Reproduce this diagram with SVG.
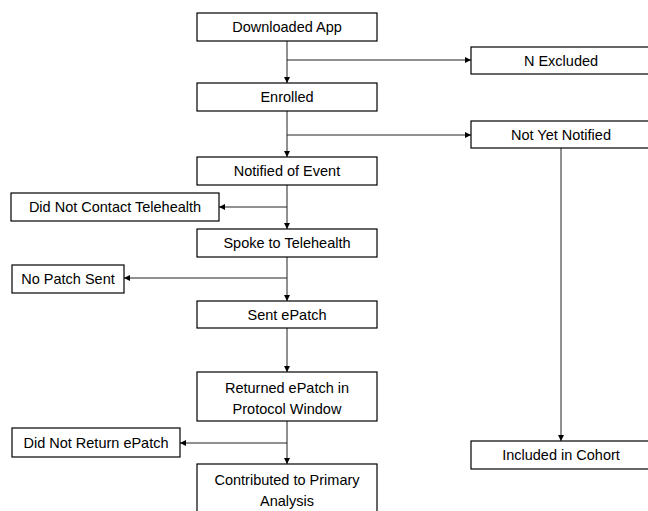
<svg xmlns="http://www.w3.org/2000/svg" width="648" height="511" viewBox="0 0 648 511">
<style>
.box{fill:#fff;stroke:#000;stroke-width:1.2}
.t{font-family:"Liberation Sans",Arial,sans-serif;font-size:14.5px;fill:#000;text-anchor:middle}
.c{fill:none;stroke:#222;stroke-width:1}
</style>
<defs>
<marker id="ah" viewBox="0 0 10 10" refX="10" refY="5" markerWidth="6" markerHeight="6" markerUnits="userSpaceOnUse" orient="auto"><path d="M0,0L10,5L0,10z" fill="#000"/></marker>
</defs>
<rect width="648" height="511" fill="#fff"/>
<g id="connectors">
<path class="c" d="M287,41V83" marker-end="url(#ah)"/>
<path class="c" d="M287,60H471" marker-end="url(#ah)"/>
<path class="c" d="M287,111V157" marker-end="url(#ah)"/>
<path class="c" d="M287,135H471" marker-end="url(#ah)"/>
<path class="c" d="M287,185V229" marker-end="url(#ah)"/>
<path class="c" d="M287,207H219" marker-end="url(#ah)"/>
<path class="c" d="M287,257V301" marker-end="url(#ah)"/>
<path class="c" d="M287,278H124" marker-end="url(#ah)"/>
<path class="c" d="M287,328V372" marker-end="url(#ah)"/>
<path class="c" d="M287,421V464" marker-end="url(#ah)"/>
<path class="c" d="M287,443H180" marker-end="url(#ah)"/>
<path class="c" d="M561,148V441" marker-end="url(#ah)"/>
</g>
<g id="downloaded"><rect class="box" x="197" y="13" width="180" height="28"/><text class="t" x="287" y="32">Downloaded App</text></g>
<g id="excluded"><rect class="box" x="471" y="47" width="181" height="27"/><text class="t" x="561" y="65.5">N Excluded</text></g>
<g id="enrolled"><rect class="box" x="197" y="83" width="180" height="28"/><text class="t" x="287" y="102">Enrolled</text></g>
<g id="notyet"><rect class="box" x="471" y="121" width="181" height="27"/><text class="t" x="561" y="139.5">Not Yet Notified</text></g>
<g id="notified"><rect class="box" x="197" y="157" width="180" height="28"/><text class="t" x="287" y="176">Notified of Event</text></g>
<g id="nocontact"><rect class="box" x="11" y="193" width="208" height="28"/><text class="t" x="115" y="212">Did Not Contact Telehealth</text></g>
<g id="spoke"><rect class="box" x="197" y="229" width="180" height="28"/><text class="t" x="287" y="248">Spoke to Telehealth</text></g>
<g id="nopatch"><rect class="box" x="12" y="265" width="112" height="28"/><text class="t" x="68" y="284">No Patch Sent</text></g>
<g id="sent"><rect class="box" x="197" y="301" width="180" height="27"/><text class="t" x="287" y="319.5">Sent ePatch</text></g>
<g id="returned"><rect class="box" x="197" y="372" width="180" height="49"/><text class="t" x="287" y="393">Returned ePatch in</text><text class="t" x="287" y="414">Protocol Window</text></g>
<g id="noreturn"><rect class="box" x="12" y="428" width="168" height="29"/><text class="t" x="96" y="447.5">Did Not Return ePatch</text></g>
<g id="contributed"><rect class="box" x="197" y="464" width="180" height="52"/><text class="t" x="287" y="485">Contributed to Primary</text><text class="t" x="287" y="506">Analysis</text></g>
<g id="included"><rect class="box" x="471" y="441" width="181" height="28"/><text class="t" x="561" y="460">Included in Cohort</text></g>
</svg>
